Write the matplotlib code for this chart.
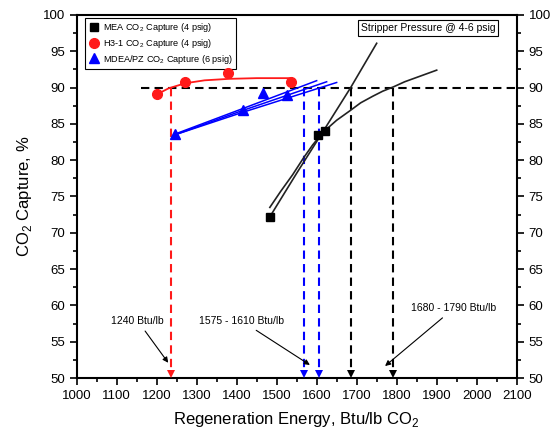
import matplotlib
matplotlib.use("Agg")
import matplotlib.pyplot as plt
from matplotlib.ticker import MultipleLocator

plt.rcParams['font.family'] = ['Liberation Sans', 'DejaVu Sans']
plt.rcParams['mathtext.fontset'] = 'custom'
plt.rcParams['mathtext.rm'] = 'Liberation Sans'

# --- data ---
mea_x = [1483, 1603, 1620]
mea_y = [72.2, 83.5, 84.0]

h3_x = [1202, 1272, 1379, 1537]
h3_y = [89.1, 90.7, 92.05, 90.7]

mdea_x = [1246, 1415, 1465, 1525]
mdea_y = [83.6, 86.9, 89.3, 89.0]

# trend curves
h3_fit_x = [1202, 1230, 1272, 1320, 1380, 1450, 1537]
h3_fit_y = [89.1, 89.9, 90.6, 91.0, 91.2, 91.3, 91.3]

mdea_fit1_x = [1246, 1410, 1600]
mdea_fit1_y = [83.6, 87.0, 90.95]
mdea_fit2_x = [1246, 1410, 1650]
mdea_fit2_y = [83.5, 86.5, 90.7]
mdea_fit3_x = [1246, 1410, 1625]
mdea_fit3_y = [83.5, 86.75, 90.8]

meaA_x = [1483, 1550, 1620, 1685, 1750]
meaA_y = [72.2, 78.2, 84.3, 90.0, 96.1]
meaB_x = [1483, 1510, 1540, 1567, 1590, 1617, 1650, 1683, 1710, 1740, 1765, 1792, 1820, 1850, 1875, 1900]
meaB_y = [73.5, 75.7, 78.0, 80.3, 82.1, 83.9, 85.5, 86.8, 87.9, 88.8, 89.5, 90.1, 90.8, 91.4, 91.9, 92.4]

target = 90
red_cut = [1236]
blue_cuts = [1568, 1607]
black_cuts = [1685, 1792]

fig = plt.figure(figsize=(5.55, 4.34), dpi=100)
ax = fig.add_axes([0.138, 0.129, 0.793, 0.8365])

# horizontal target line
ax.plot([1160, 2100], [target, target], color='black', lw=1.5, ls=(0, (4, 2.5)), zorder=2)

def vcut(xs, color):
    for x in xs:
        ax.plot([x, x], [target, 50.6], color=color, lw=1.5, ls=(0, (4, 2.5)), zorder=2)
        ax.plot([x], [50.55], marker='v', color=color, markersize=6, clip_on=False, zorder=5,
                markeredgewidth=0)

vcut(red_cut, '#ff1a1a')
vcut(blue_cuts, '#0000ff')
vcut(black_cuts, 'black')

# fit curves
ax.plot(h3_fit_x, h3_fit_y, color='#ff1a1a', lw=1.3, zorder=3)
for fx, fy in [(mdea_fit1_x, mdea_fit1_y), (mdea_fit2_x, mdea_fit2_y), (mdea_fit3_x, mdea_fit3_y)]:
    ax.plot(fx, fy, color='#0000ff', lw=1.1, zorder=3)
ax.plot(meaA_x, meaA_y, color='#222222', lw=1.2, zorder=3)
ax.plot(meaB_x, meaB_y, color='#222222', lw=1.2, zorder=3)

# markers
ax.plot(mea_x, mea_y, ls='none', marker='s', color='black', markersize=6,
        label='MEA CO$_2$ Capture (4 psig)', zorder=7)
ax.plot(h3_x, h3_y, ls='none', marker='o', color='#ff1a1a', markersize=7,
        label='H3-1 CO$_2$ Capture (4 psig)', zorder=7)
ax.plot(mdea_x, mdea_y, ls='none', marker='^', color='#0000ff', markersize=7.5,
        label='MDEA/PZ CO$_2$ Capture (6 psig)', zorder=7)

leg = ax.legend(loc='upper left', bbox_to_anchor=(0.019, 0.992), fontsize=6.6,
                frameon=True, fancybox=False, borderpad=0.35, handletextpad=0.3,
                labelspacing=0.3, handlelength=1.3, borderaxespad=0, framealpha=1)
leg.get_frame().set_edgecolor('black')
leg.get_frame().set_linewidth(0.8)
leg.set_zorder(6)

# annotations
ann_kw = dict(fontsize=7.5, ha='center', va='center',
              arrowprops=dict(arrowstyle='-|>', color='black', lw=0.8,
                              mutation_scale=8, shrinkA=2, shrinkB=0))
ax.annotate('1240 Btu/lb', xy=(1229, 52.1), xytext=(1153, 57.85), **ann_kw)
ax.annotate('1575 - 1610 Btu/lb', xy=(1583, 51.8), xytext=(1413, 57.85), **ann_kw)
ax.annotate('1680 - 1790 Btu/lb', xy=(1771, 51.65), xytext=(1943, 59.6), **ann_kw)

ax.text(1878, 98.2, 'Stripper Pressure @ 4-6 psig', fontsize=7.5, ha='center', va='center',
        bbox=dict(boxstyle='square,pad=0.25', fc='white', ec='black', lw=0.8))

# axes
ax.set_xlim(1000, 2100)
ax.set_ylim(50, 100)
ax.xaxis.set_major_locator(MultipleLocator(100))
ax.xaxis.set_minor_locator(MultipleLocator(50))
ax.yaxis.set_major_locator(MultipleLocator(5))
ax.yaxis.set_minor_locator(MultipleLocator(2.5))
ax.tick_params(which='both', direction='out', top=False, right=True, labelright=True,
               labelsize=9.5, width=1.2)
ax.tick_params(which='major', length=5)
ax.tick_params(which='minor', length=3)
for s in ax.spines.values():
    s.set_linewidth(1.5)

ax.set_xlabel('Regeneration Energy, Btu/lb CO$_2$', fontsize=12, labelpad=6)
ax.set_ylabel('CO$_2$ Capture, %', fontsize=12, labelpad=6)

fig.savefig('out.png', dpi=100)
